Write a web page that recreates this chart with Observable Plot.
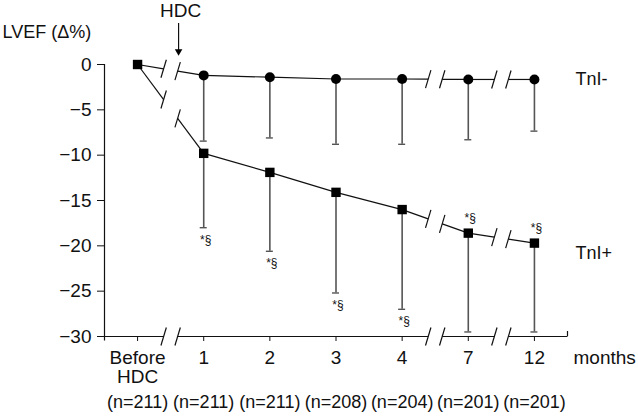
<!DOCTYPE html>
<html><head><meta charset="utf-8">
<script src="https://cdn.jsdelivr.net/npm/d3@7"></script>
<script src="https://cdn.jsdelivr.net/npm/@observablehq/plot@0.6"></script>
<style>body{margin:0;background:#fff}</style>
</head><body><div id="chart"></div>
<script>
// ---- data ----
const timepoints = ["Before\nHDC", "1", "2", "3", "4", "7", "12"];
const nLabels = ["(n=211)", "(n=211)", "(n=211)", "(n=208)", "(n=204)", "(n=201)", "(n=201)"];
const tniNegMean  = [0, -1.2, -1.4, -1.6, -1.6, -1.65, -1.65];
const tniNegLower = [null, -8.45, -8.1, -8.8, -8.8, -8.3, -7.35];
const tniPosMean  = [0, -9.8, -11.9, -14.1, -16.0, -18.6, -19.7];
const tniPosLower = [null, -18.0, -20.6, -25.2, -27.0, -29.5, -29.5];
const sigPlacement = [null, "below", "below", "below", "below", "above", "above"];
const sigText = "*§";
const breaksAfter = [0, 4, 5];
const yTicks = [0, -5, -10, -15, -20, -25, -30];
const seriesLabels = ["TnI-", "TnI+"];
const yLabel = "LVEF (Δ%)";
const xUnit = "months";
const hdcMark = {x: 0.62, label: "HDC"};

// ---- layout ----
const W = 638, H = 416, mL = 104, mR = 71, mT = 64, mB = 80;
const xDomain = [-0.5, timepoints.length - 0.5];
const yDomain = [-30, 0];
const kx = (xDomain[1] - xDomain[0]) / (W - mL - mR);
const ky = (yDomain[1] - yDomain[0]) / (H - mT - mB);
const idx = timepoints.map((_, i) => i);
const last = idx.length - 1;
const gap = 7 * kx;

function slash(x, y) {
  return {x1: x - 2.7 * kx, y1: y - 9 * ky, x2: x + 2.7 * kx, y2: y + 9 * ky};
}
function brokenLine(vals) {
  const segs = [], sl = [];
  for (let i = 0; i < vals.length - 1; i++) {
    const f = x => vals[i] + (vals[i + 1] - vals[i]) * (x - i);
    if (breaksAfter.includes(i)) {
      const xc = i + 0.5;
      segs.push({x1: i, y1: vals[i], x2: xc - gap, y2: f(xc - gap)});
      segs.push({x1: xc + gap, y1: f(xc + gap), x2: i + 1, y2: vals[i + 1]});
      sl.push(slash(xc - gap, f(xc - gap)), slash(xc + gap, f(xc + gap)));
    } else {
      segs.push({x1: i, y1: vals[i], x2: i + 1, y2: vals[i + 1]});
    }
  }
  return {segs, sl};
}
function axisLine() {
  const y = yDomain[0];
  const segs = [], sl = [];
  let start = xDomain[0];
  for (const b of breaksAfter) {
    const xc = b + 0.5;
    segs.push({x1: start, y1: y, x2: xc - gap, y2: y});
    sl.push(slash(xc - gap, y), slash(xc + gap, y));
    start = xc + gap;
  }
  segs.push({x1: start, y1: y, x2: xDomain[1], y2: y});
  return {segs, sl};
}

const neg = brokenLine(tniNegMean);
const pos = brokenLine(tniPosMean);
const ax = axisLine();
const errNeg = idx.filter(i => tniNegLower[i] != null).map(i => ({x: i, m: tniNegMean[i], lo: tniNegLower[i]}));
const errPos = idx.filter(i => tniPosLower[i] != null).map(i => ({x: i, m: tniPosMean[i], lo: tniPosLower[i]}));
const errAll = errNeg.concat(errPos);
const capW = 3.5 * kx;
const sigBelow = idx.filter(i => sigPlacement[i] === "below");
const sigAbove = idx.filter(i => sigPlacement[i] === "above");
const lineStroke = "#111", errStroke = "#555";
const link = {x1: "x1", y1: "y1", x2: "x2", y2: "y2", stroke: lineStroke, strokeWidth: 1.2};

const chart = Plot.plot({
  width: W, height: H,
  marginLeft: mL, marginRight: mR, marginTop: mT, marginBottom: mB,
  x: {type: "linear", domain: xDomain},
  y: {domain: yDomain},
  style: {fontFamily: "'Liberation Sans', Arial, Helvetica, sans-serif", fontSize: "18px", color: "#111", background: "#fff"},
  marks: [
    // axes
    Plot.axisY({ticks: yTicks, tickSize: 7, tickPadding: 6, fontSize: 19, label: null,
      tickFormat: d => d === 0 ? "0" : "\u2212" + Math.abs(d)}),
    Plot.axisX({ticks: idx, tickSize: 5, tickPadding: 9, fontSize: 19, label: null, lineHeight: 1.0,
      tickFormat: i => timepoints[i]}),
    Plot.ruleX([xDomain[0]], {y1: yDomain[0] - 4.5 * ky, y2: yDomain[1], stroke: lineStroke, strokeWidth: 1.2}),
    Plot.ruleX([xDomain[1]], {y1: yDomain[0], y2: yDomain[0] + 5 * ky, stroke: lineStroke, strokeWidth: 1.2}),
    Plot.link(ax.segs, link),
    Plot.link(ax.sl, link),
    // error bars
    Plot.ruleX(errAll, {x: "x", y1: "m", y2: "lo", stroke: errStroke, strokeWidth: 1.6}),
    Plot.ruleY(errAll, {y: "lo", x1: d => d.x - capW, x2: d => d.x + capW, stroke: errStroke, strokeWidth: 1.4}),
    // lines
    Plot.link(neg.segs, link),
    Plot.link(pos.segs, link),
    Plot.link(neg.sl.concat(pos.sl), link),
    // markers
    Plot.dot(idx.slice(1), {x: i => i, y: i => tniNegMean[i], r: 5, fill: "#000", stroke: "none"}),
    Plot.dot(idx, {x: i => i, y: i => tniPosMean[i], r: 5.3, symbol: "square", fill: "#000", stroke: "none"}),
    // significance marks
    Plot.text(sigBelow, {x: i => i, y: i => tniPosLower[i], dy: 12, dx: 2, text: () => sigText, fontSize: 12, fill: "#111"}),
    Plot.text(sigAbove, {x: i => i, y: i => tniPosMean[i], dy: -15, dx: 2, text: () => sigText, fontSize: 12, fill: "#111"}),
    // n labels
    Plot.text(idx, {x: i => i, y: () => yDomain[0], dy: 66, text: i => nLabels[i], fontSize: 18}),
    // unit label
    Plot.text([xUnit], {x: () => xDomain[1], y: () => yDomain[0], dx: 6, dy: 21, text: d => d, textAnchor: "start", fontSize: 19}),
    // series labels
    Plot.text([seriesLabels[0]], {x: () => last, y: () => tniNegMean[last], dx: 41, dy: 0,
      text: d => d, textAnchor: "start", fontSize: 18}),
    Plot.text([seriesLabels[1]], {x: () => last, y: () => tniPosMean[last], dx: 41, dy: 10,
      text: d => d, textAnchor: "start", fontSize: 18}),
    // y label
    Plot.text([yLabel], {frameAnchor: "top-left", lineAnchor: "middle", dx: -102, dy: -32, text: d => d, textAnchor: "start", fontSize: 18}),
    // HDC annotation
    Plot.text([hdcMark], {x: "x", y: () => 54 * ky, dx: 2, text: "label", fontSize: 19}),
    Plot.ruleX([hdcMark], {x: "x", y1: 41 * ky, y2: 13 * ky, stroke: lineStroke, strokeWidth: 1.2}),
    Plot.dot([hdcMark], {x: "x", y: 13 * ky, symbol: "triangle", rotate: 180, r: 2.8, fill: "#000", stroke: "none"})
  ]
});
document.getElementById("chart").appendChild(chart);
</script>
</body></html>
